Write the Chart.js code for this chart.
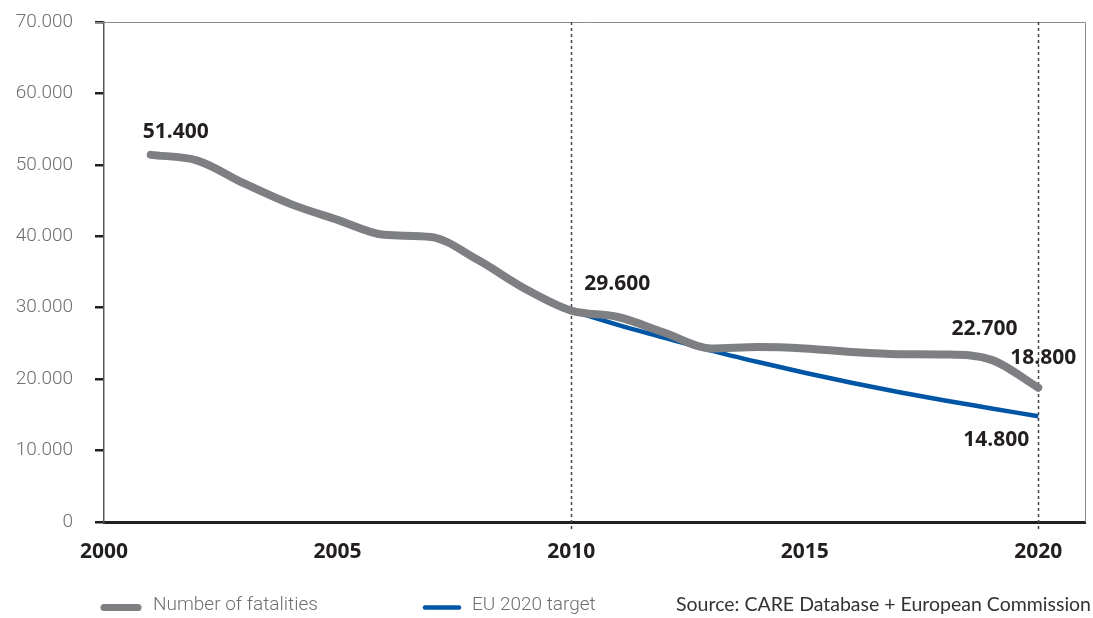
<!DOCTYPE html>
<html>
<head>
<meta charset="utf-8">
<script src="https://cdn.jsdelivr.net/npm/chart.js@4.4.1/dist/chart.umd.min.js"></script>
<style>
  html, body { margin: 0; padding: 0; background: #fff; }
  #wrap { width: 1093px; height: 618px; position: relative; }
</style>
</head>
<body>
<div id="wrap"><canvas id="myChart"></canvas></div>
<script>
  // values
  var years = [2001, 2002, 2003, 2004, 2005, 2006, 2007, 2008, 2009, 2010,
               2011, 2012, 2013, 2014, 2015, 2016, 2017, 2018, 2019, 2020];
  var fatalities = [51400, 50600, 47400, 44500, 42300, 40200, 39900, 36700, 32700, 29600,
                    28700, 26500, 24300, 24500, 24300, 23800, 23500, 23450, 22700, 18800];
  var targetYears = [2010, 2011, 2012, 2013, 2014, 2015, 2016, 2017, 2018, 2019, 2020];
  var target = [29600, 27600, 25800, 24000, 22400, 20900, 19500, 18200, 17000, 15900, 14800];

  var xTicks = [2000, 2005, 2010, 2015, 2020];
  var markerYears = [2010, 2020];
  var seriesNames = ['Number of fatalities', 'EU 2020 target'];
  var sourceText = 'Source: CARE Database + European Commission';

  // annotated values: [year, value, text]
  var callouts = [
    [2001, 51400, '51.400'],
    [2010, 29600, '29.600'],
    [2019, 22700, '22.700'],
    [2020, 18800, '18.800'],
    [2020, 14800, '14.800']
  ];
  // where each callout sits relative to its point (dx, dy to baseline, align)
  var calloutPlacement = [
    [-8, -17, 'left'],
    [13, -21, 'left'],
    [26, -25, 'right'],
    [5, -24, 'center'],
    [-9, 30, 'right']
  ];

  var GREY = '#7e7f83';
  var BLUE = '#0055a5';

  function fmt(v) {
    return String(v).replace(/\B(?=(\d{3})+(?!\d))/g, '.');
  }

  var framePlugin = {
    id: 'frame',
    beforeDatasetsDraw: function (chart) {
      var ctx = chart.ctx, a = chart.chartArea, x = chart.scales.x;
      ctx.save();
      // thin top and right frame
      ctx.strokeStyle = '#8a8a8a';
      ctx.lineWidth = 1;
      ctx.beginPath();
      ctx.moveTo(a.left - 9, a.top + 0.5);
      ctx.lineTo(a.right + 0.5, a.top + 0.5);
      ctx.lineTo(a.right + 0.5, a.bottom);
      ctx.stroke();
      // dashed year markers
      ctx.strokeStyle = '#444';
      ctx.lineWidth = 1.5;
      ctx.setLineDash([3, 3]);
      markerYears.forEach(function (yr) {
        var px = Math.round(x.getPixelForValue(yr)) + 0.5;
        ctx.beginPath();
        ctx.moveTo(px, a.top);
        ctx.lineTo(px, a.bottom + 7);
        ctx.stroke();
      });
      ctx.restore();
    },
    afterDatasetsDraw: function (chart) {
      var ctx = chart.ctx, x = chart.scales.x, y = chart.scales.y;
      ctx.save();
      ctx.fillStyle = '#231f20';
      ctx.font = '700 21px "Open Sans"';
      ctx.textBaseline = 'alphabetic';
      callouts.forEach(function (c, i) {
        var p = calloutPlacement[i];
        ctx.textAlign = p[2];
        ctx.fillText(c[2], x.getPixelForValue(c[0]) + p[0], y.getPixelForValue(c[1]) + p[1]);
      });
      ctx.restore();
    },
    afterDraw: function (chart) {
      var ctx = chart.ctx;
      var ly = 607.5;
      ctx.save();
      ctx.lineCap = 'round';
      ctx.strokeStyle = GREY;
      ctx.lineWidth = 7;
      ctx.beginPath(); ctx.moveTo(104, ly); ctx.lineTo(138, ly); ctx.stroke();
      ctx.strokeStyle = BLUE;
      ctx.lineWidth = 4.5;
      ctx.beginPath(); ctx.moveTo(425, ly); ctx.lineTo(459, ly); ctx.stroke();
      ctx.textBaseline = 'middle';
      ctx.textAlign = 'left';
      ctx.fillStyle = '#6d6e71';
      ctx.font = '300 19px Roboto';
      ctx.fillText(seriesNames[0], 153, 605);
      ctx.fillText(seriesNames[1], 472, 605);
      ctx.textAlign = 'right';
      ctx.fillStyle = '#333';
      ctx.font = '19.5px Lato';
      ctx.fillText(sourceText, 1091, 605);
      ctx.restore();
    }
  };

  var ctx = document.getElementById('myChart');

  var data = {
    datasets: [
      {
        label: seriesNames[0],
        data: years.map(function (yr, i) { return { x: yr, y: fatalities[i] }; }),
        borderColor: GREY,
        borderWidth: 8,
        borderCapStyle: 'round',
        borderJoinStyle: 'round',
        cubicInterpolationMode: 'monotone',
        pointRadius: 0,
        fill: false
      },
      {
        label: seriesNames[1],
        data: targetYears.map(function (yr, i) { return { x: yr, y: target[i] }; }),
        borderColor: BLUE,
        borderWidth: 4.5,
        borderCapStyle: 'butt',
        cubicInterpolationMode: 'monotone',
        pointRadius: 0,
        fill: false
      }
    ]
  };

  var options = {
    responsive: true,
    maintainAspectRatio: false,
    animation: false,
    layout: { padding: { top: 22, right: 8, left: 0, bottom: 0 } },
    plugins: {
      legend: { display: false },
      tooltip: { enabled: false }
    },
    scales: {
      x: {
        type: 'linear',
        min: 2000,
        max: 2021,
        afterBuildTicks: function (axis) {
          axis.ticks = xTicks.map(function (v) { return { value: v }; });
        },
        afterFit: function (axis) { axis.height = 96; },
        grid: { display: false },
        border: { display: true, color: '#231f20', width: 3 },
        ticks: {
          color: '#231f20',
          font: { family: '"Open Sans"', size: 21, weight: '700' },
          padding: 9,
          maxRotation: 0,
          callback: function (v) { return String(v); }
        }
      },
      y: {
        min: 0,
        max: 70000,
        afterFit: function (axis) {
          axis.width = 104;
          axis.paddingTop = 0;
          axis.paddingBottom = 0;
        },
        ticks: {
          stepSize: 10000,
          color: '#6d6e71',
          font: { family: 'Roboto', size: 19, weight: '300' },
          padding: 22,
          callback: function (v) { return fmt(v); }
        },
        grid: {
          drawOnChartArea: false,
          drawTicks: true,
          tickLength: 9,
          lineWidth: 2.5,
          color: '#231f20'
        },
        border: { display: true, color: '#555', width: 1.5 }
      }
    }
  };

  var chart = new Chart(ctx, {
    type: 'line',
    data: data,
    options: options,
    plugins: [framePlugin]
  });
</script>
</body>
</html>
